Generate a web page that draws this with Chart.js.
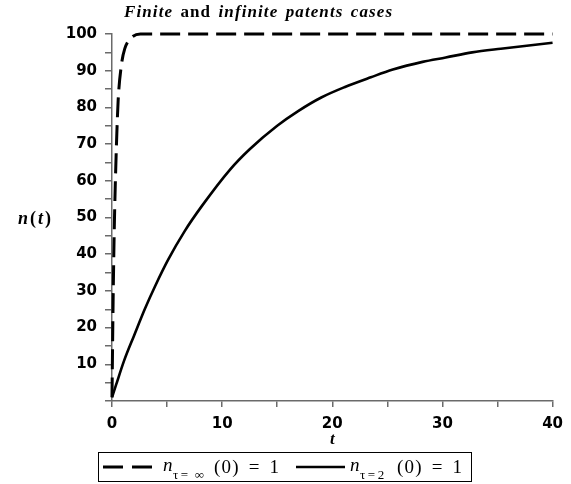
<!DOCTYPE html>
<html><head><meta charset="utf-8">
<script src="https://cdn.jsdelivr.net/npm/chart.js@4"></script>
<style>
html,body{margin:0;padding:0;background:#fff;}
#wrap{position:relative;width:571px;height:484px;overflow:hidden;background:#fff;}
canvas{position:absolute;left:0;top:0;}
.t{position:absolute;font-family:"Liberation Serif","Times New Roman",serif;color:#000;white-space:nowrap;line-height:1;}
.lg{font-size:19px;letter-spacing:1.2px;word-spacing:3px;}
.sub{font-size:13px;}
</style></head><body>
<div id="wrap">
<canvas id="c" width="571" height="484"></canvas>
<div class="t" style="left:124px;top:3px;font-size:17px;font-weight:bold;letter-spacing:1.1px;word-spacing:2px;"><i>Finite</i> and <i>infinite patents cases</i></div>
<div class="t" style="left:18px;top:209px;font-size:18px;font-weight:bold;letter-spacing:2px;"><i>n</i>(<i>t</i>)</div>
<div class="t" style="left:330px;top:430px;font-size:17px;font-weight:bold;"><i>t</i></div>
<div style="position:absolute;left:98px;top:452px;width:374px;height:30px;border:1.5px solid #000;box-sizing:border-box;"></div>
<svg width="571" height="484" style="position:absolute;left:0;top:0">
  <line x1="103" y1="467" x2="153" y2="467" stroke="#000" stroke-width="3" stroke-dasharray="20 9"/>
  <line x1="296" y1="467" x2="345" y2="467" stroke="#000" stroke-width="2.5"/>
</svg>
<div class="t lg" style="left:163px;top:455px;"><i>n</i></div>
<div class="t sub" style="left:173px;top:468px;">&tau;&thinsp;=&nbsp;&nbsp;&infin;</div>
<div class="t lg" style="left:214px;top:457px;">(0) = 1</div>
<div class="t lg" style="left:350px;top:455px;"><i>n</i></div>
<div class="t sub" style="left:360px;top:468px;">&tau;&thinsp;=&thinsp;2</div>
<div class="t lg" style="left:397px;top:457px;">(0) = 1</div>
</div>
<script>
// n(t) for tau = infinity (dashed)
const tInf = [0, 0.1, 0.2, 0.29, 0.44, 0.56, 0.85, 1.16, 1.69, 2.58, 40];
const nInf = [1, 27, 46, 58, 73, 82, 91.5, 96, 98.8, 100, 100];
// n(t) for tau = 2 (solid)
const tTwo = [0, 0.36, 1.1, 2.0, 3.0, 3.9, 5.1, 6.6, 8.2, 10.7, 12.5, 15.0, 16.9, 19.0, 21.1, 23.5, 25.5, 28.2, 30.3, 32.7, 35.3, 40];
const nTwo = [1, 4.3, 11, 17.8, 25.2, 31.2, 38.5, 46.3, 53.3, 63, 68.6, 75, 79, 82.7, 85.5, 88.2, 90.3, 92.4, 93.6, 95, 96, 97.6];
// tick labels
const xTickLabels = [0, 10, 20, 30, 40];
const yTickLabels = [10, 20, 30, 40, 50, 60, 70, 80, 90, 100];

const toPts = (xs, ys) => xs.map((x, i) => ({x: x, y: ys[i]}));
const tickFont = {family: "DejaVu Sans", weight: "bold", size: 15};
const axisGray = '#6a6a6a';

new Chart(document.getElementById('c').getContext('2d'), {
  type: 'line',
  data: {
    datasets: [
      {label: 'n_tau=inf', data: toPts(tInf, nInf), borderColor: '#000', borderWidth: 3,
       borderDash: [20, 8], pointRadius: 0, cubicInterpolationMode: 'monotone', fill: false, clip: false},
      {label: 'n_tau=2', data: toPts(tTwo, nTwo), borderColor: '#000', borderWidth: 2.6,
       pointRadius: 0, cubicInterpolationMode: 'monotone', fill: false, clip: false}
    ]
  },
  options: {
    responsive: false, animation: false, devicePixelRatio: 1,
    layout: {autoPadding: false, padding: {left: 0, right: 8, top: 34, bottom: 0}},
    plugins: {legend: {display: false}, title: {display: false}, tooltip: {enabled: false}},
    scales: {
      x: {
        type: 'linear', min: 0, max: 40,
        ticks: {stepSize: 5, autoSkip: false, maxRotation: 0, padding: 8, color: '#000', font: tickFont,
                callback: v => xTickLabels.includes(v) ? String(v) : ''},
        grid: {drawOnChartArea: false, drawTicks: true, tickLength: 6, color: axisGray, lineWidth: 1.5},
        border: {display: true, color: axisGray, width: 1.5},
        afterFit: s => { s.height = 83; }
      },
      y: {
        type: 'linear', min: 0, max: 100,
        ticks: {stepSize: 5, autoSkip: false, padding: 8, color: '#000', font: tickFont,
                callback: v => yTickLabels.includes(v) ? String(v) : ''},
        grid: {drawOnChartArea: false, drawTicks: true, tickLength: 7, color: axisGray, lineWidth: 1.5},
        border: {display: true, color: axisGray, width: 1.5},
        afterFit: s => { s.width = 112; }
      }
    }
  }
});
</script>
</body></html>
